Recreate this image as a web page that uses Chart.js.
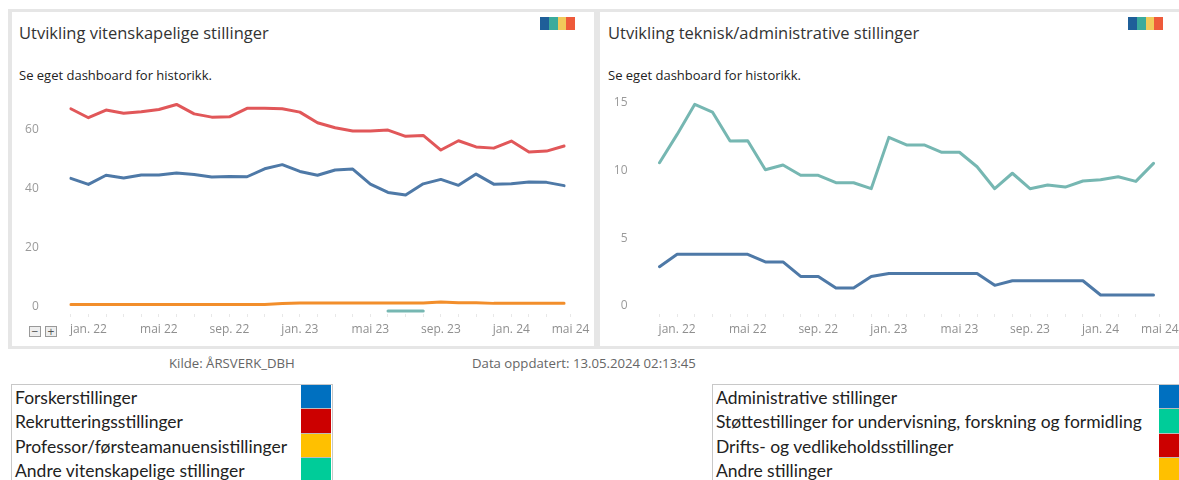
<!DOCTYPE html>
<html lang="no">
<head>
<meta charset="utf-8">
<script src="https://cdn.jsdelivr.net/npm/chart.js@4"></script>
<style>
html,body{margin:0;padding:0;background:#fff;width:1179px;height:480px;overflow:hidden;font-family:"Open Sans",sans-serif}
.abs{position:absolute;white-space:nowrap}
.band{position:absolute;background:#e6e6e6}
.title{font-size:16.5px;color:#333;line-height:20px}
.sub{font-size:13px;color:#222;line-height:16px}
.foot{font-size:13.2px;color:#666;line-height:16px}
.pal{position:absolute;display:flex;height:13px;width:35px}
.pal i{flex:1;display:block}
.btn{position:absolute;width:10px;height:9px;border:1px solid #999;background:#eee;color:#555;font-size:12px;line-height:9px;text-align:center}
.legend{position:absolute;border:1px solid #c8c8c8;border-bottom:none;background:#fff}
.row{height:24.4px;line-height:25px;font-family:Lato,sans-serif;font-size:17.5px;color:#222;padding-left:3px;position:relative;box-sizing:border-box}
.row b{position:absolute;top:0;bottom:0;width:30px;border-bottom:1px solid #bbb;box-sizing:border-box}
canvas{display:block}
.cw{position:absolute;overflow:hidden}
</style>
</head>
<body>
<div class="band" style="left:8px;top:9px;width:1171px;height:3px"></div>
<div class="band" style="left:8px;top:9px;width:4px;height:340px"></div>
<div class="band" style="left:594px;top:9px;width:6px;height:340px"></div>
<div class="band" style="left:8px;top:346px;width:1171px;height:3px"></div>

<div class="abs title" style="left:19px;top:23px" id="t1"></div>
<div class="abs sub" style="left:19px;top:67px" id="s1"></div>
<div class="abs title" style="left:608px;top:23px" id="t2"></div>
<div class="abs sub" style="left:608px;top:67px" id="s2"></div>
<div class="pal" style="left:540px;top:17px"><i style="background:#1f5f99"></i><i style="background:#3aab9c"></i><i style="background:#f1c95a"></i><i style="background:#ee5a3a"></i></div>
<div class="pal" style="left:1128px;top:17px"><i style="background:#1f5f99"></i><i style="background:#3aab9c"></i><i style="background:#f1c95a"></i><i style="background:#ee5a3a"></i></div>
<div class="btn" style="left:29px;top:326px">−</div>
<div class="btn" style="left:45px;top:326px">+</div>

<div class="cw" style="left:12px;top:85px;width:582px;height:260px"><canvas id="c1" width="582" height="260"></canvas></div>
<div class="cw" style="left:600px;top:85px;width:579px;height:260px"><canvas id="c2" width="590" height="260"></canvas></div>

<div class="abs foot" style="left:169px;top:355px" id="f1"></div>
<div class="abs foot" style="left:472px;top:355px" id="f2"></div>
<div class="legend" id="l1" style="left:11px;top:384px;width:320px;height:96px"></div>
<div class="legend" id="l2" style="left:712px;top:384px;width:480px;height:96px"></div>

<script>
const months = ["des. 21","jan. 22","feb. 22","mar. 22","apr. 22","mai 22","jun. 22","jul. 22","aug. 22","sep. 22","okt. 22","nov. 22","des. 22","jan. 23","feb. 23","mar. 23","apr. 23","mai 23","jun. 23","jul. 23","aug. 23","sep. 23","okt. 23","nov. 23","des. 23","jan. 24","feb. 24","mar. 24","apr. 24"];
const xTickLabels = ["jan. 22","mai 22","sep. 22","jan. 23","mai 23","sep. 23","jan. 24","mai 24"];
const xTickPositions = [1,5,9,13,17,21,25,28.36];
const xMinorPositions = [0,2,3,4,6,7,8,10,11,12,14,15,16,18,19,20,22,23,24,26,27];

const vitRed = [67.05,64.0,66.6,65.5,66.0,66.8,68.5,65.3,64.2,64.3,67.2,67.2,67.05,65.9,62.3,60.6,59.5,59.5,59.8,57.7,58.0,53.05,56.2,54.1,53.7,56.1,52.4,52.7,54.4];
const vitBlue = [43.45,41.4,44.5,43.55,44.6,44.6,45.25,44.8,43.9,44.1,44.0,46.7,48.1,45.8,44.5,46.3,46.6,41.5,38.7,37.8,41.6,43.1,41.1,44.9,41.5,41.6,42.2,42.1,41.0];
const vitOrange = [0.75,0.75,0.75,0.75,0.75,0.75,0.75,0.75,0.75,0.75,0.75,0.75,1.05,1.25,1.25,1.25,1.25,1.25,1.25,1.25,1.25,1.6,1.35,1.3,1.1,1.1,1.1,1.1,1.1];
const vitTeal = [null,null,null,null,null,null,null,null,null,null,null,null,null,null,null,null,null,null,-1.5,-1.5,-1.5,null,null,null,null,null,null,null,null];

const tekTeal = [10.57,12.66,14.88,14.31,12.17,12.19,10.05,10.40,9.64,9.64,9.09,9.09,8.65,12.44,11.88,11.88,11.34,11.34,10.27,8.65,9.79,8.65,8.92,8.77,9.22,9.31,9.53,9.19,10.52];
const tekBlue = [2.89,3.80,3.80,3.80,3.80,3.80,3.24,3.24,2.17,2.17,1.31,1.31,2.17,2.39,2.39,2.39,2.39,2.39,2.39,1.51,1.85,1.85,1.85,1.85,1.85,0.80,0.80,0.80,0.80];

const vitYTicks = [0,20,40,60];
const tekYTicks = [0,5,10,15];

const legendLeft = ["Forskerstillinger","Rekrutteringsstillinger","Professor/førsteamanuensistillinger","Andre vitenskapelige stillinger"];
const legendLeftColors = ["#0070c0","#cc0000","#ffc000","#00cc99"];
const legendRight = ["Administrative stillinger","Støttestillinger for undervisning, forskning og formidling","Drifts- og vedlikeholdsstillinger","Andre stillinger"];
const legendRightColors = ["#0070c0","#00cc99","#cc0000","#ffc000"];

document.getElementById('t1').textContent = "Utvikling vitenskapelige stillinger";
document.getElementById('t2').textContent = "Utvikling teknisk/administrative stillinger";
document.getElementById('s1').textContent = document.getElementById('s2').textContent = "Se eget dashboard for historikk.";
document.getElementById('f1').textContent = "Kilde: ÅRSVERK_DBH";
document.getElementById('f2').textContent = "Data oppdatert: 13.05.2024 02:13:45";

function fillLegend(id, names, colors, swatchLeft){
  const el = document.getElementById(id);
  names.forEach((n,i)=>{
    const r = document.createElement('div'); r.className='row'; r.textContent=n;
    const b = document.createElement('b'); b.style.background=colors[i];
    b.style.left=swatchLeft+'px';
    r.appendChild(b); el.appendChild(r);
  });
}
fillLegend('l1', legendLeft, legendLeftColors, 289);
fillLegend('l2', legendRight, legendRightColors, 446);

function ds(data,color){
  return {data,borderColor:color,backgroundColor:color,borderWidth:3,pointRadius:0,tension:0,spanGaps:false,borderJoinStyle:'round',borderCapStyle:'round'};
}
function makeChart(id, datasets, yMin, yMax, yTicks, plotLeft, padRight){
  new Chart(document.getElementById(id),{
    type:'line',
    data:{labels:months,datasets},
    options:{
      responsive:false,animation:false,
      layout:{padding:{top:10,right:padRight,left:0,bottom:0}},
      plugins:{legend:{display:false},tooltip:{enabled:false}},
      scales:{
        x:{
          type:'category',offset:false,
          border:{display:false},
          grid:{drawOnChartArea:false,drawTicks:true,tickLength:3,tickColor:'#e8e8e8'},
          afterBuildTicks(s){ s.ticks = xMinorPositions.concat(xTickPositions).sort((a,b)=>a-b).map(v=>({value:v})); },
          ticks:{autoSkip:false,maxRotation:0,minRotation:0,padding:5,color:'#8f8f8f',font:{family:'"Open Sans"',size:12},
            callback(v){ const k=xTickPositions.indexOf(v); return k<0?'':xTickLabels[k]; }},
          afterFit(s){ s.height=31; }
        },
        y:{
          type:'linear',min:yMin,max:yMax,
          border:{display:false},
          grid:{drawOnChartArea:false,drawTicks:true,tickLength:32,tickColor:'rgba(0,0,0,0)'},
          afterBuildTicks(s){ s.ticks = yTicks.map(v=>({value:v})); },
          ticks:{padding:0,color:'#9a9a9a',font:{family:'"Open Sans"',size:12}},
          afterFit(s){ s.width=plotLeft; }
        }
      }
    }
  });
}
makeChart('c1',[ds(vitTeal,'#76b7b2'),ds(vitOrange,'#f28e2b'),ds(vitBlue,'#4e79a7'),ds(vitRed,'#e15759')],-2.5,71.7,vitYTicks,58.8,29);
makeChart('c2',[ds(tekBlue,'#4e79a7'),ds(tekTeal,'#76b7b2')],-0.606,15.57,tekYTicks,59.5,36.5);
</script>
</body>
</html>
